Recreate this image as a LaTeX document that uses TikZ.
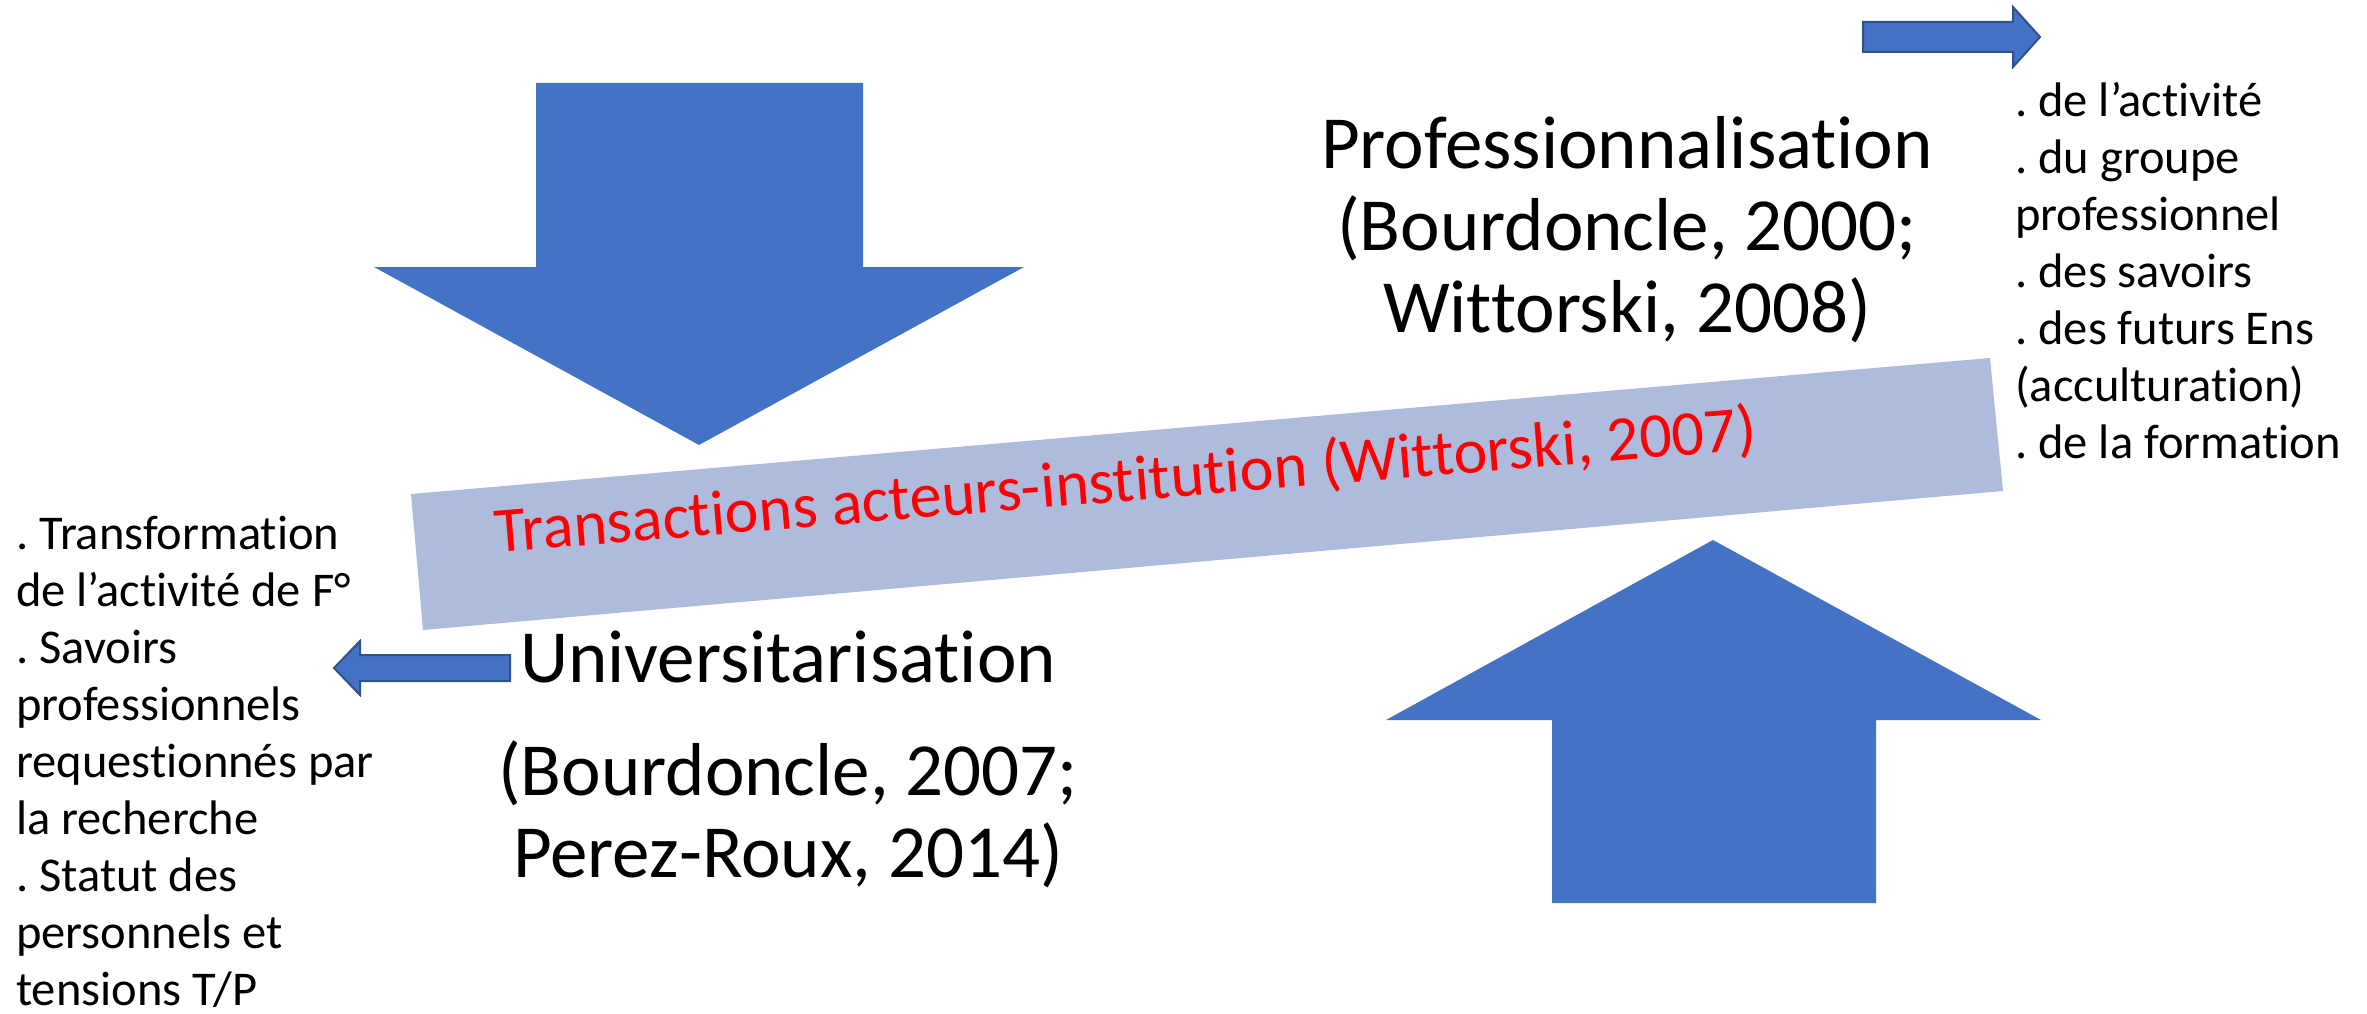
\documentclass[tikz,border=0pt]{standalone}
\usepackage{fontspec}
\setmainfont{Carlito}[Ligatures=NoCommon]
\usetikzlibrary{positioning}
\definecolor{ppblue}{RGB}{68,114,196}
\definecolor{ppedge}{RGB}{47,82,143}
\definecolor{ppbar}{RGB}{175,187,221}
\frenchspacing
\begin{document}
\begin{tikzpicture}[x=1pt,y=-1pt,
    bigarrow/.style={fill=ppblue},
    smallarrow/.style={fill=ppblue,draw=ppedge,line width=2pt},
    title/.style={align=center,inner sep=0pt,anchor=base,font=\fontsize{75}{82}\selectfont},
    items/.style={align=left,inner sep=0pt,anchor=base west,font=\fontsize{48.5}{57}\selectfont}]
    \useasboundingbox (0,0) rectangle (2367,1014);

    % tilted bar
    \fill[ppbar] (411,494) -- (1990,358) -- (2003,491) -- (423,630) -- cycle;
    \node[red,inner sep=0pt,anchor=base,rotate=4.7,font=\fontsize{64}{70}\selectfont] (T) at (1127,501)
        {Transactions acteurs-institution (Wittorski, 2007)};

    % big arrows
    \fill[bigarrow] (536,83) -- (863,83) -- (863,267) -- (1024,267) -- (699,445)
        -- (374,267) -- (536,267) -- cycle;
    \fill[bigarrow] (1552,903) -- (1876,903) -- (1876,720) -- (2041,720) -- (1713,540)
        -- (1386,720) -- (1552,720) -- cycle;

    % titles (base = last line)
    \node[title] (P) at (1627,332)
        {Professionnalisation\\(Bourdoncle, 2000;\\Wittorski, 2008)};
    \node[title] (U) at (788,877)
        {Universitarisation\\[31pt](Bourdoncle, 2007;\\Perez-Roux, 2014)};

    % small arrows
    \draw[smallarrow] (1863,22) -- (2013,22) -- (2013,7) -- (2040,37) -- (2013,67)
        -- (2013,52) -- (1863,52) -- cycle;
    \draw[smallarrow] (510,655) -- (360,655) -- (360,641) -- (334,668) -- (360,695)
        -- (360,681) -- (510,681) -- cycle;

    % lists
    \node[items] (R) at (2015,458)
        {. de l’activité\\. du groupe\\professionnel\\. des savoirs\\. des futurs Ens\\(acculturation)\\. de la formation};
    \node[items] (L) at (16,1005)
        {. Transformation\\de l’activité de F°\\. Savoirs\\professionnels\\requestionnés par\\la recherche\\. Statut des\\personnels et\\tensions T/P};
\end{tikzpicture}
\end{document}
